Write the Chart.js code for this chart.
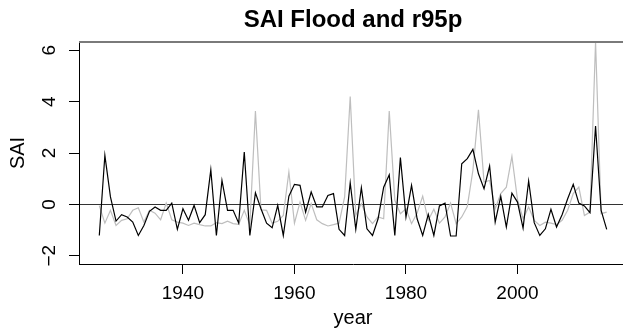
<!DOCTYPE html>
<html><head><meta charset="utf-8">
<script src="https://cdn.jsdelivr.net/npm/chart.js@4"></script>
<style>html,body{margin:0;padding:0;overflow:hidden;background:#fff}#wrap{width:627px;height:334px}</style>
</head><body><div id="wrap"><canvas id="c" width="627" height="334"></canvas></div>
<script>
const years = [1925,1926,1927,1928,1929,1930,1931,1932,1933,1934,
  1935,1936,1937,1938,1939,1940,1941,1942,1943,1944,
  1945,1946,1947,1948,1949,1950,1951,1952,1953,1954,
  1955,1956,1957,1958,1959,1960,1961,1962,1963,1964,
  1965,1966,1967,1968,1969,1970,1971,1972,1973,1974,
  1975,1976,1977,1978,1979,1980,1981,1982,1983,1984,
  1985,1986,1987,1988,1989,1990,1991,1992,1993,1994,
  1995,1996,1997,1998,1999,2000,2001,2002,2003,2004,
  2005,2006,2007,2008,2009,2010,2011,2012,2013,2014,
  2015,2016];
const saiFlood = [-1.21,1.91,0.29,-0.65,-0.40,-0.49,-0.69,-1.21,-0.82,-0.27,
  -0.10,-0.23,-0.23,0.05,-0.97,-0.17,-0.62,-0.04,-0.71,-0.40,
  1.35,-1.21,0.93,-0.23,-0.23,-0.73,2.04,-1.21,0.45,-0.17,
  -0.73,-0.91,-0.04,-1.21,0.32,0.78,0.74,-0.30,0.48,-0.10,
  -0.10,0.35,0.42,-0.97,-1.21,0.84,-0.97,0.65,-0.95,-1.21,
  -0.56,0.67,1.15,-1.21,1.82,-0.49,0.74,-0.56,-1.21,-0.39,
  -1.21,-0.06,0.05,-1.23,-1.23,1.58,1.78,2.14,1.19,0.61,
  1.49,-0.69,0.31,-0.88,0.44,0.09,-0.92,0.91,-0.71,-1.21,
  -0.95,-0.19,-0.88,-0.40,0.22,0.78,0.05,-0.06,-0.32,3.05,
  -0.23,-0.97];
const r95p = [-0.05,-0.73,-0.23,-0.82,-0.62,-0.56,-0.23,-0.13,-0.69,-0.23,
  -0.34,-0.60,0.05,-0.60,-0.69,-0.73,-0.82,-0.73,-0.79,-0.84,
  -0.84,-0.71,-0.75,-0.65,-0.75,-0.78,-0.23,-0.80,3.63,-0.21,
  -0.23,-0.73,-0.66,-0.43,1.26,-0.73,0.09,-0.62,0.03,-0.60,
  -0.75,-0.84,-0.79,-0.73,0.29,4.20,-0.43,0.03,-0.49,-0.75,
  -0.49,-0.56,3.63,0.16,-0.36,-0.17,-0.75,-0.34,0.32,-0.62,
  -0.19,-0.73,-0.49,0.05,-0.75,-0.49,-0.08,1.32,3.68,0.87,
  0.93,-0.17,0.42,0.67,1.87,0.19,-0.56,-0.10,-0.62,-0.82,
  -0.69,-0.73,-0.79,-0.62,-0.23,0.42,0.67,-0.43,-0.30,6.32,
  -0.36,-0.30];
const xTicks = [1940,1960,1980,2000];
const yTicks = [-2,0,2,4,6];
const xRange = [1921.36, 2019.64];
const yRange = [-2.32, 6.32];

const FONT = 'Liberation Sans, Arial, Helvetica, sans-serif';
const topBorder = {
  id:'topBorder',
  afterDraw(chart){
    const a = chart.chartArea, ctx = chart.ctx;
    ctx.save();
    ctx.fillStyle = '#7a7a7a';
    ctx.fillRect(a.left, a.top - 1, a.right - a.left, 2);
    ctx.restore();
  }
};
const fmt = v => v < 0 ? '\u2212' + Math.abs(v) : String(v);

new Chart(document.getElementById('c'), {
  type:'line',
  data:{
    datasets:[
      {label:'SAI Flood', data: years.map((y,i)=>({x:y, y:saiFlood[i]})), borderColor:'#000', borderWidth:1.2, pointRadius:0, tension:0, fill:false, order:1},
      {label:'r95p', data: years.map((y,i)=>({x:y, y:r95p[i]})), borderColor:'#bebebe', borderWidth:1.2, pointRadius:0, tension:0, fill:false, order:2}
    ]
  },
  options:{
    responsive:false, animation:false, events:[],
    layout:{padding:0},
    plugins:{
      legend:{display:false}, tooltip:{enabled:false},
      title:{display:true, text:'SAI Flood and r95p', fullSize:false, color:'#000',
        font:{family:FONT, size:24, weight:'bold', lineHeight:1.2}, padding:{top:6, bottom:7.2}}
    },
    scales:{
      x:{type:'linear', min:xRange[0], max:xRange[1],
        afterBuildTicks: s => { s.ticks = xTicks.map(v=>({value:v})); },
        afterFit: s => { s.height = 70; },
        ticks:{color:'#000', font:{family:FONT, size:19}, padding:8, maxRotation:0, minRotation:0, autoSkip:false, callback: v => String(v)},
        grid:{drawOnChartArea:false, tickLength:10, tickColor:'#000', tickWidth:1},
        border:{color:'#000', width:1},
        title:{display:true, text:'year', color:'#000', font:{family:FONT, size:20, lineHeight:1.2}, padding:{top:0, bottom:4}}
      },
      y:{type:'linear', min:yRange[0], max:yRange[1],
        afterBuildTicks: s => { s.ticks = yTicks.map(v=>({value:v})); },
        afterFit: s => { s.width = 79; },
        ticks:{color:'#000', font:{family:FONT, size:19}, padding:8, minRotation:90, maxRotation:90, crossAlign:'center', autoSkip:false, callback: v => fmt(v)},
        grid:{drawOnChartArea:true, color: c => (c.tick && c.tick.value === 0) ? '#333' : 'rgba(0,0,0,0)', lineWidth:1, tickLength:10, tickColor:'#000', tickWidth:1},
        border:{color:'#000', width:1},
        title:{display:true, text:'SAI', color:'#000', font:{family:FONT, size:20, lineHeight:1.2}, padding:{top:6, bottom:0}}
      }
    }
  },
  plugins:[topBorder]
});
</script></body></html>
